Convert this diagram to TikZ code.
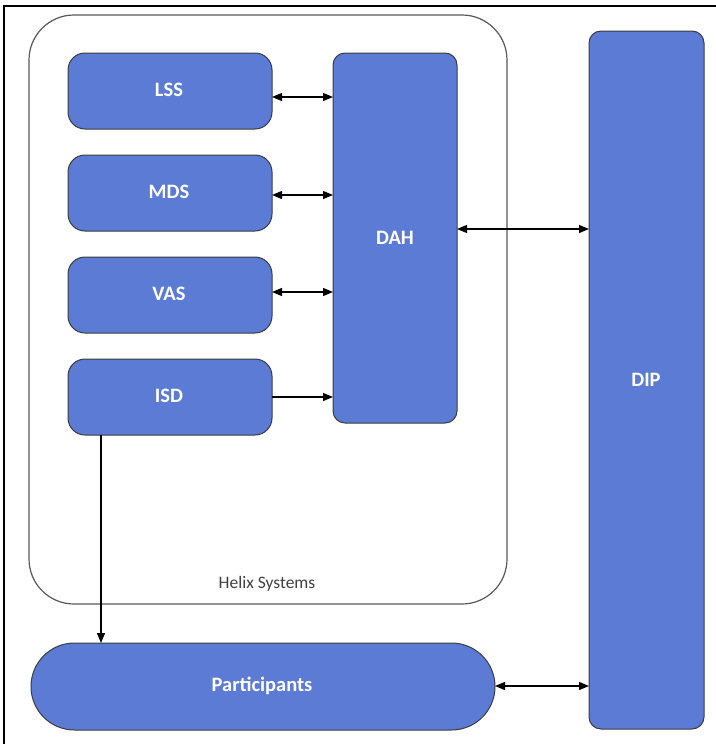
\documentclass[tikz,border=0pt]{standalone}
\usepackage{fontspec}
\setmainfont{Carlito}
\usetikzlibrary{arrows.meta}
\definecolor{boxblue}{RGB}{91,123,213}
\definecolor{edgegray}{RGB}{60,60,60}
\tikzset{
  x=1pt, y=-1pt,
  blk/.style={draw=edgegray, line width=1pt, fill=boxblue},
  lbl/.style={text=white, font=\fontsize{20.5}{22}\selectfont\bfseries},
  conn/.style={line width=1.2pt, -{Triangle[length=10pt,width=8pt]}},
  bconn/.style={line width=1.2pt, {Triangle[length=10pt,width=8pt]}-{Triangle[length=10pt,width=8pt]}},
}
\begin{document}
\begin{tikzpicture}
\useasboundingbox (0,0) rectangle (715,744);
\fill[white] (0,0) rectangle (715,744);
% outer frame
\draw[line width=1.5pt] (4,760) -- (4,6) -- (730,6);
% container
\draw[draw=black!65, line width=1.2pt, rounded corners=45pt] (29,15) rectangle (507,604);
\node[font=\fontsize{17.5}{19}\selectfont, text=black!75] (hs) at (267,584) {Helix Systems};
% boxes
\path[blk, rounded corners=17pt] (68,53) rectangle (272,129);
\node[lbl] (lss) at (169,90) {LSS};
\coordinate (lssR) at (272,97);
\path[blk, rounded corners=17pt] (68,155) rectangle (272,231);
\node[lbl] (mds) at (169,192) {MDS};
\coordinate (mdsR) at (272,195);
\path[blk, rounded corners=17pt] (68,257) rectangle (272,333);
\node[lbl] (vas) at (169,294) {VAS};
\coordinate (vasR) at (272,292);
\path[blk, rounded corners=17pt] (68,359) rectangle (272,435);
\node[lbl] (isd) at (169,396) {ISD};
\coordinate (isdR) at (272,397);
\coordinate (isdB) at (101,435);
% DAH
\path[blk, rounded corners=12pt] (333,53) rectangle (457,423);
\node[lbl] (dah) at (395,238) {DAH};
\coordinate (dahL1) at (333,97);
\coordinate (dahL2) at (333,195);
\coordinate (dahL3) at (333,292);
\coordinate (dahL4) at (333,397);
\coordinate (dahR) at (457,229);
% DIP
\path[blk, rounded corners=12pt] (589,31) rectangle (704,729);
\node[lbl] (dip) at (646,380) {DIP};
\coordinate (dipL1) at (589,229);
\coordinate (dipL2) at (589,686);
% Participants
\path[blk, rounded corners=43.5pt] (31,643) rectangle (495,730);
\node[lbl] (part) at (262,686) {Participants};
\coordinate (partR) at (495,686);
\coordinate (partT) at (101,643);
% connectors
\draw[bconn] (lssR) -- (dahL1);
\draw[bconn] (mdsR) -- (dahL2);
\draw[bconn] (vasR) -- (dahL3);
\draw[conn] (isdR) -- (dahL4);
\draw[bconn] (dahR) -- (dipL1);
\draw[bconn] (partR) -- (dipL2);
\draw[conn] (isdB) -- (partT);
\end{tikzpicture}
\end{document}
